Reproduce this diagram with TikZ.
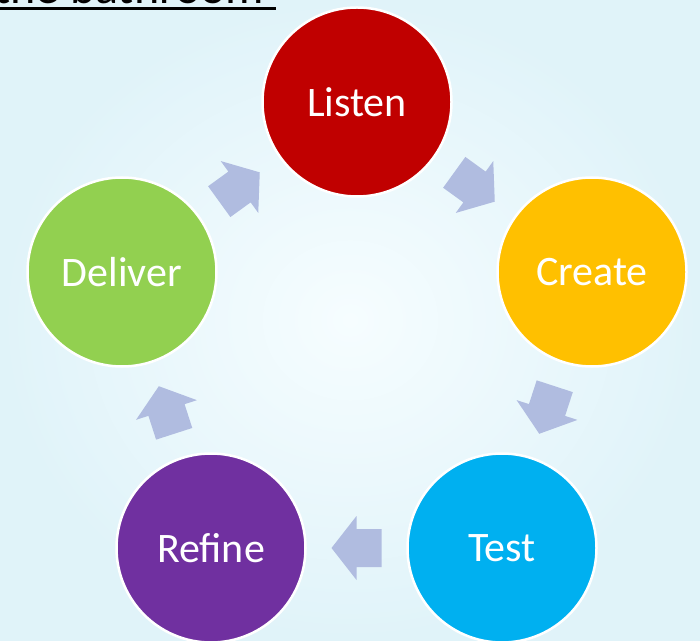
\documentclass[tikz,border=0pt]{standalone}
\usepackage{fontspec}
\setmainfont{Carlito}
\usetikzlibrary{calc}
\definecolor{bgin}{RGB}{246,253,255}
\definecolor{bgout}{RGB}{224,243,249}
\definecolor{listenc}{RGB}{192,0,0}
\definecolor{createc}{RGB}{255,192,0}
\definecolor{testc}{RGB}{0,176,240}
\definecolor{refinec}{RGB}{112,48,160}
\definecolor{deliverc}{RGB}{146,208,80}
\definecolor{arrowc}{RGB}{176,188,224}
\tikzset{
  stage/.style={circle, draw=white, line width=2.5pt, minimum size=189pt, inner sep=0pt,
    text=white, font=\fontsize{42}{48}\selectfont},
  blockarrow/.pic={\fill[arrowc] (-25,-19) -- (0,-19) -- (0,-32) -- (25,0) -- (0,32) -- (0,19) -- (-25,19) -- cycle;}
}
\begin{document}
\begin{tikzpicture}[x=1pt,y=1pt]
\useasboundingbox (0,0) rectangle (700,640);
\clip (0,0) rectangle (700,640);
\shade[inner color=bgin, outer color=bgout] (0,0) rectangle (700,640);
\node[anchor=base west, inner sep=0pt, font=\fontsize{48}{56}\selectfont] (title) at (-6,636.5) {the bathroom};
\coordinate (ulA) at (0,631.5);
\coordinate (ulB) at (276,631.5);
\draw[line width=3pt] (ulA) -- (ulB);
\node[stage, fill=listenc] (listen) at (357,538) {Listen};
\node[stage, fill=createc] (create) at (592,368) {Create};
\node[stage, fill=testc] (test) at (502,92) {Test};
\node[stage, fill=refinec] (refine) at (211,92) {Refine};
\node[stage, fill=deliverc] (deliver) at (122,368) {Deliver};
\foreach \a/\b in {listen/create, create/test, test/refine, refine/deliver, deliver/listen}{
  \path let \p1=($(\b)-(\a)$), \n1={atan2(\y1,\x1)} in
    ($(\a)!0.5!(\b)$) pic[rotate=\n1] {blockarrow};
}
\end{tikzpicture}
\end{document}
